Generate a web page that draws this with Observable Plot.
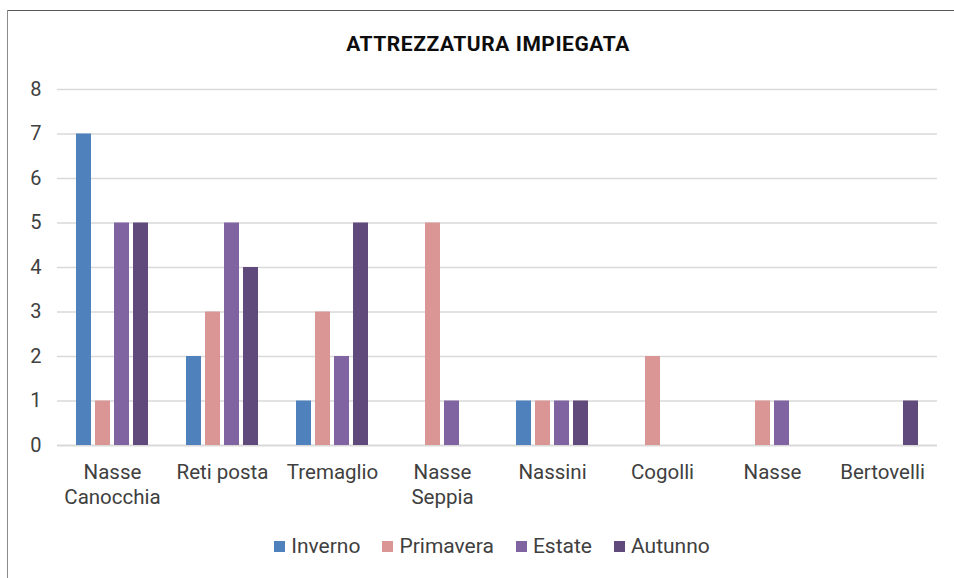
<!DOCTYPE html>
<html>
<head>
<meta charset="utf-8">
<script src="https://cdn.jsdelivr.net/npm/d3@7"></script>
<script src="https://cdn.jsdelivr.net/npm/@observablehq/plot@0.6"></script>
<style>
  body { margin: 0; background: #fff; font-family: Roboto, "Noto Sans", sans-serif; }
  #wrap { position: relative; width: 954px; height: 578px; overflow: hidden; background: #fff; }
  #borderTop { position: absolute; left: 7px; top: 10px; width: 960px; height: 0; border-top: 1.5px solid #595959; }
  #borderLeft { position: absolute; left: 7px; top: 10px; width: 0; height: 580px; border-left: 1.5px solid #8c8c8c; }
  #title { position: absolute; left: 0; width: 976px; top: 32px; text-align: center; font-weight: bold; font-size: 21px; letter-spacing: 0.55px; color: #0d0d0d; }
  #chart { position: absolute; left: 0; top: 60px; }
  #legend { position: absolute; left: 0; width: 984px; top: 534px; display: flex; justify-content: center; gap: 22px; font-size: 21px; color: #404040; }
  .item { display: flex; align-items: center; gap: 6px; }
  .sw { width: 11px; height: 11px; display: inline-block; }
</style>
</head>
<body>
<div id="wrap">
  <div id="borderTop"></div>
  <div id="borderLeft"></div>
  <div id="title">ATTREZZATURA IMPIEGATA</div>
  <div id="chart"></div>
  <div id="legend"></div>
</div>
<script>
const categories = ["Nasse Canocchia", "Reti posta", "Tremaglio", "Nasse Seppia", "Nassini", "Cogolli", "Nasse", "Bertovelli"];
const categoryLabels = ["Nasse\nCanocchia", "Reti posta", "Tremaglio", "Nasse\nSeppia", "Nassini", "Cogolli", "Nasse", "Bertovelli"];
const seasons = ["Inverno", "Primavera", "Estate", "Autunno"];
const inverno   = [7, 2, 1, 0, 1, 0, 0, 0];
const primavera = [1, 3, 3, 5, 1, 2, 1, 0];
const estate    = [5, 5, 2, 1, 1, 0, 1, 0];
const autunno   = [5, 4, 5, 0, 1, 0, 0, 1];
const seasonColors = ["#4F81BD", "#D99694", "#8064A2", "#604A7B"];
const yTicks = [0, 1, 2, 3, 4, 5, 6, 7, 8];

const series = [inverno, primavera, estate, autunno];
const data = [];
categories.forEach((c, i) => {
  seasons.forEach((s, j) => data.push({category: c, season: s, value: series[j][i]}));
});
const labelOf = new Map(categories.map((c, i) => [c, categoryLabels[i]]));

const chart = Plot.plot({
  width: 954,
  height: 460,
  marginLeft: 55,
  marginRight: 16,
  marginTop: 29,
  marginBottom: 75,
  style: {fontFamily: "Roboto, sans-serif", fontSize: "20px", color: "#404040", background: "transparent"},
  fx: {domain: categories, paddingInner: 0, paddingOuter: 0},
  x: {domain: seasons, paddingInner: 0.2, paddingOuter: 0.856, axis: null},
  y: {domain: [0, 8]},
  color: {domain: seasons, range: seasonColors},
  marks: [
    Plot.ruleY(yTicks.filter(d => d > 0), {stroke: "#d9d9d9", strokeWidth: 1.5}),
    Plot.ruleY([0], {stroke: "#d9d9d9", strokeWidth: 2}),
    Plot.barY(data, {fx: "category", x: "season", y: "value", fill: "season"}),
    Plot.axisY({ticks: yTicks, tickSize: 0, tickPadding: 16, fontSize: 20, fill: "#404040", tickFormat: d => String(d), label: null}),
    Plot.axisFx({anchor: "bottom", tickSize: 0, tickPadding: 15, fontSize: 20.5, fill: "#404040", lineHeight: 1.25, tickFormat: d => labelOf.get(d), label: null})
  ]
});
document.getElementById("chart").appendChild(chart);

const legend = document.getElementById("legend");
seasons.forEach((s, i) => {
  const item = document.createElement("div");
  item.className = "item";
  const sw = document.createElement("span");
  sw.className = "sw";
  sw.style.background = seasonColors[i];
  const t = document.createElement("span");
  t.textContent = s;
  item.appendChild(sw);
  item.appendChild(t);
  legend.appendChild(item);
});
</script>
</body>
</html>
